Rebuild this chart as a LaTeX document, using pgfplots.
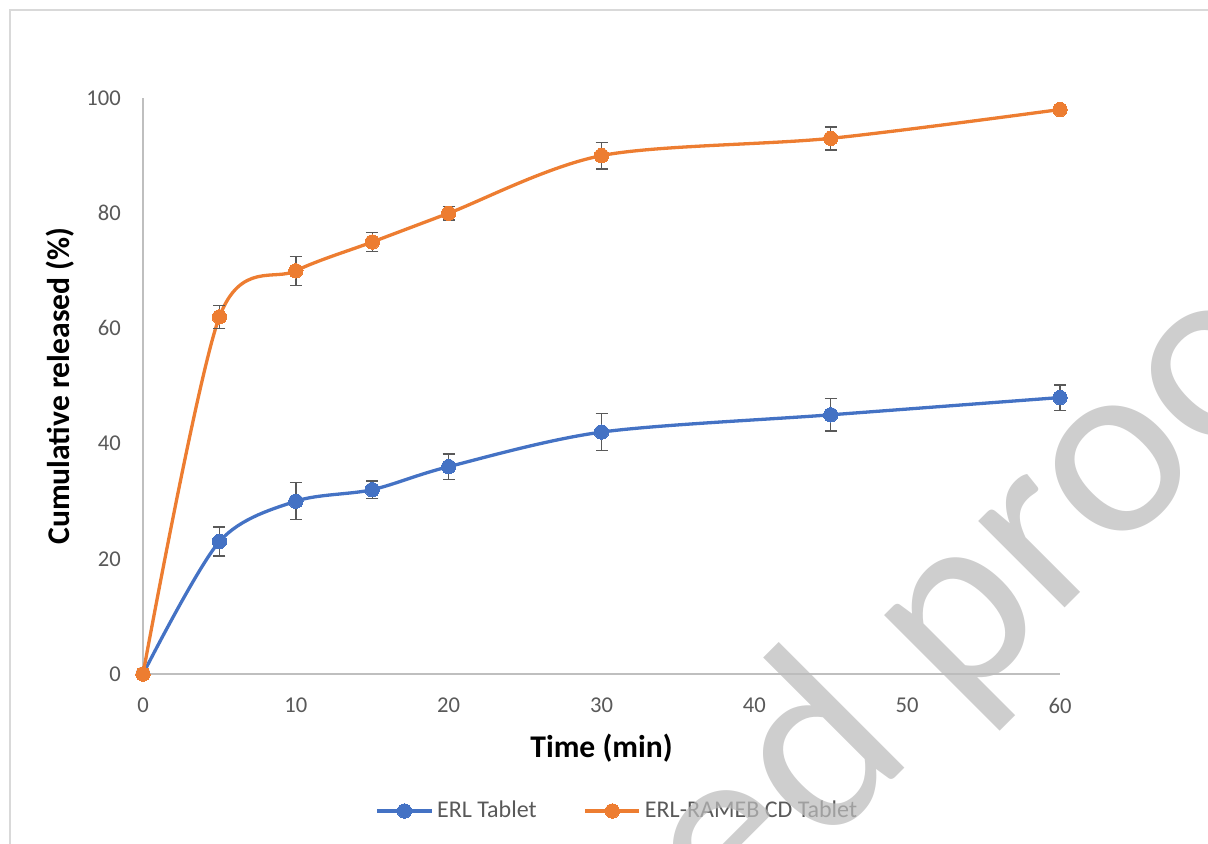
\documentclass[border=0pt]{standalone}
\usepackage{fontspec}
\setmainfont{Carlito}
\usepackage{pgfplots}
\usepackage{pgfplotstable}
\pgfplotsset{compat=1.18}
\definecolor{ErlBlue}{HTML}{4472C4}
\definecolor{ErlOrange}{HTML}{ED7D31}
\definecolor{TickGray}{HTML}{595959}
\definecolor{AxisGray}{HTML}{BFBFBF}
\definecolor{FrameGray}{HTML}{D9D9D9}
\definecolor{MarkGray}{HTML}{BBBBBB}

\pgfplotstableread{
x y e
0 0 0
5 23 2.5
10 30 3.2
15 32 1.5
20 36 2.2
30 42 3.2
45 45 2.8
60 48 2.2
}\erl
\pgfplotstableread{
x y e
0 0 0
5 62 2.0
10 70 2.5
15 75 1.6
20 80 1.2
30 90 2.3
45 93 2.0
60 98 0.8
}\rameb

\begin{document}
\begin{tikzpicture}
\draw[FrameGray, line width=0.75pt] (-66.5pt,-200pt) -- (-66.5pt,332pt) -- (800pt,332pt);
\begin{axis}[
  at={(0,0)}, anchor=south west,
  scale only axis, width=458.5pt, height=288pt,
  xmin=0, xmax=60, ymin=0, ymax=100,
  xtick={0,10,...,60}, ytick={0,20,...,100},
  axis x line=bottom, axis y line=left,
  axis line style={draw=AxisGray, line width=0.75pt, -},
  major tick length=0pt,
  tick label style={font=\fontsize{11.3}{13}\selectfont, text=TickGray},
  /pgf/number format/assume math mode=true,
  xticklabel style={yshift=-8.5pt},
  yticklabel style={xshift=-7.6pt},
  xlabel={Time (min)}, ylabel={Cumulative released (\%)},
  label style={font=\bfseries\fontsize{15.8}{18}\selectfont, text=black},
  xlabel style={at={(axis description cs:0.5,-0.1285)}, anchor=center},
  ylabel style={at={(axis description cs:-0.0905,0.5)}, anchor=center},
  clip=false,
  legend style={at={(0.5185,-0.2378)}, anchor=center, draw=none, fill=none,
    legend columns=2, font=\fontsize{12}{14}\selectfont, text=TickGray,
    /tikz/every even column/.append style={column sep=21.5pt}},
  legend image code/.code={\draw[mark repeat=2, mark phase=2, #1] plot coordinates {(0pt,0pt) (13.5pt,0pt) (27pt,0pt)};},
]
\addplot[color=ErlBlue, line width=1.65pt, smooth, mark=*, mark size=3.6pt,
  mark options={solid, fill=ErlBlue, draw=ErlBlue, line width=0pt},
  error bars/.cd, y dir=both, y explicit,
  error bar style={TickGray, line width=0.7pt},
  error mark options={rotate=90, mark size=3pt, TickGray, line width=0.7pt}]
  table[x=x, y=y, y error=e] {\erl};
\addlegendentry{ERL Tablet}
\addplot[color=ErlOrange, line width=1.65pt, smooth, mark=*, mark size=3.6pt,
  mark options={solid, fill=ErlOrange, draw=ErlOrange, line width=0pt},
  error bars/.cd, y dir=both, y explicit,
  error bar style={TickGray, line width=0.7pt},
  error mark options={rotate=90, mark size=3pt, TickGray, line width=0.7pt}]
  table[x=x, y=y, y error=e] {\rameb};
\addlegendentry{ERL-RAMEB CD Tablet}
\end{axis}
\node[rotate=45, anchor=base west, inner sep=0pt, text=MarkGray, opacity=0.72,
  font=\fontsize{128}{128}\selectfont] at (407.5pt,-20.5pt) {proof};
\node[rotate=45, anchor=base east, inner sep=0pt, text=MarkGray, opacity=0.72,
  font=\fontsize{128}{128}\selectfont] at (387.1pt,-40.9pt) {Uncorrected};
\pgfresetboundingbox
\useasboundingbox (-71.5pt,-84.5pt) rectangle (532.5pt,337pt);
\end{tikzpicture}
\end{document}
